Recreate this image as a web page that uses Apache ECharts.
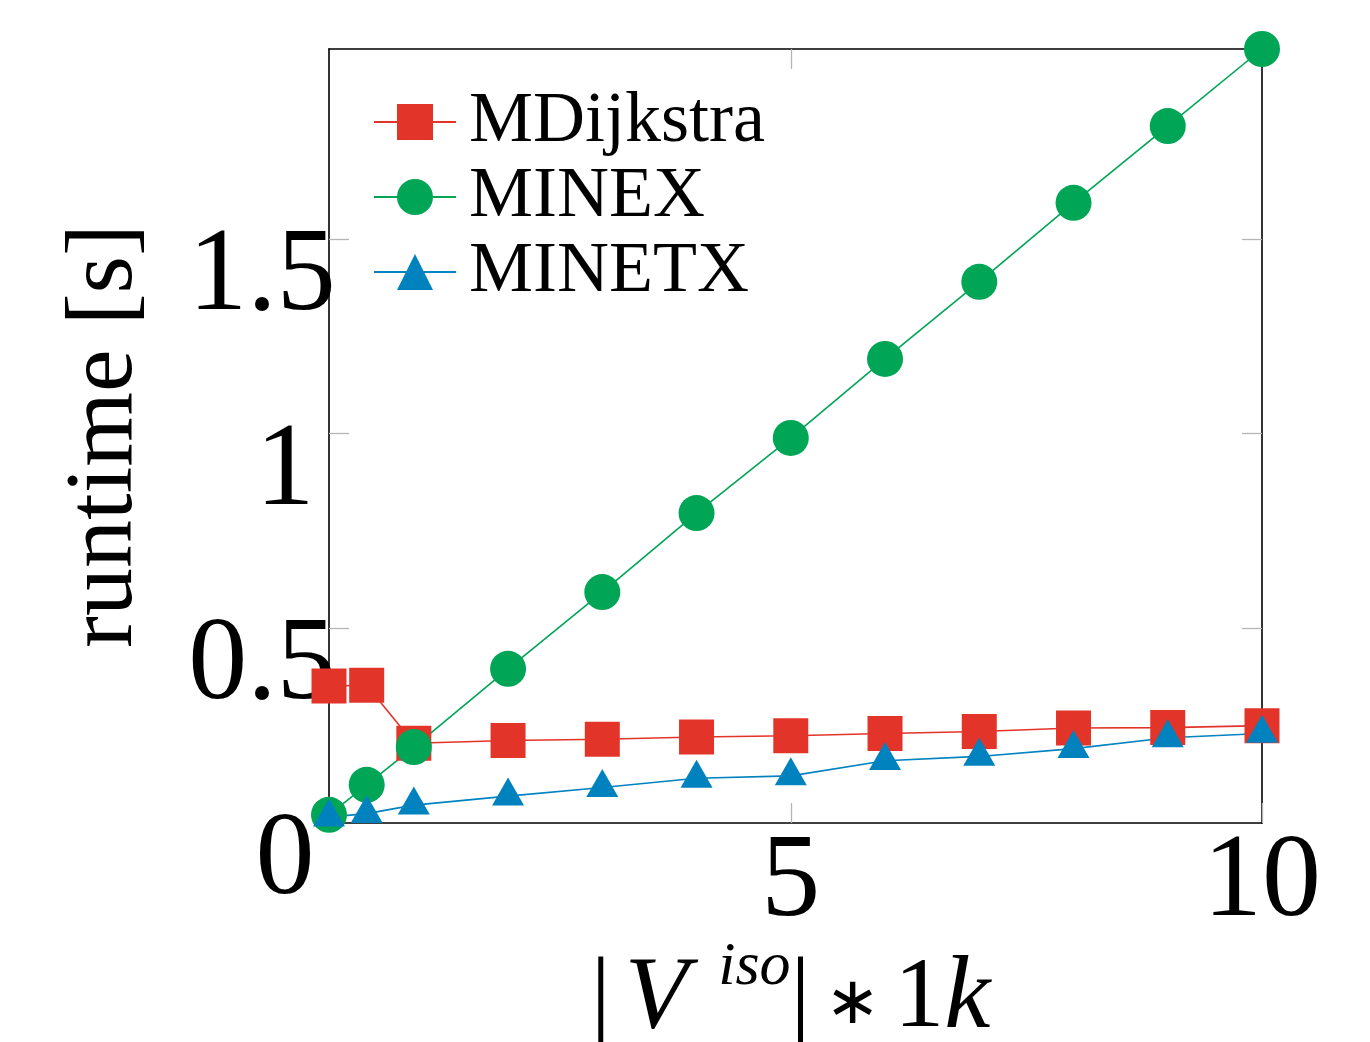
<!DOCTYPE html>
<html><head><meta charset="utf-8">
<script src="https://cdn.jsdelivr.net/npm/echarts@6/dist/echarts.min.js"></script>
<style>html,body{margin:0;padding:0;background:#fff}#c{width:1370px;height:1042px}</style>
</head><body><div id="c"></div>
<script>
// ---- data ----
const xValues   = [0.1, 0.5, 1, 2, 3, 4, 5, 6, 7, 8, 9, 10];
const mdijkstra = [0.352, 0.354, 0.205, 0.212, 0.215, 0.221, 0.224, 0.230, 0.235, 0.244, 0.245, 0.250];
const minex     = [0.021, 0.098, 0.195, 0.396, 0.593, 0.796, 0.989, 1.192, 1.390, 1.593, 1.790, 1.988];
const minetx    = [0.015, 0.024, 0.046, 0.069, 0.091, 0.115, 0.121, 0.160, 0.171, 0.191, 0.219, 0.230];
const seriesNames = ['MDijkstra', 'MINEX', 'MINETX'];
const xTicks = [5, 10];
const yTicks = [0, 0.5, 1, 1.5];
const xRange = [0.1, 10];
const yRange = [0, 1.988];

const FONT = 'Liberation Serif';
const colors = ['#e3342a', '#00a556', '#0082bf'];
const pairs = ys => xValues.map((x, i) => [x, ys[i]]);

const tickStyle = { show: true, inside: true, length: 20, lineStyle: { color: '#b5b5b5', width: 1.3 } };
const lineStyle = { show: true, onZero: false, lineStyle: { color: '#000', width: 1.6 } };

const chart = echarts.init(document.getElementById('c'), null, { renderer: 'canvas' });
chart.setOption({
  animation: false,
  backgroundColor: '#fff',
  grid: { left: 329, right: 108, top: 49, bottom: 219, containLabel: false, outerBoundsMode: 'none' },
  legend: {
    orient: 'vertical', left: 373, top: 86, padding: 0,
    itemWidth: 82, itemHeight: 45, itemGap: 3,
    selectedMode: false,
    data: seriesNames,
    textStyle: { fontFamily: FONT, fontSize: 72, lineHeight: 72, color: '#000', padding: [0, 0, 0, 8] }
  },
  xAxis: [{
    type: 'value', position: 'bottom', min: xRange[0], max: xRange[1],
    axisLine: lineStyle, splitLine: { show: false },
    axisTick: Object.assign({ customValues: xTicks }, tickStyle),
    axisLabel: { customValues: xTicks, fontFamily: FONT, fontSize: 118, lineHeight: 108, color: '#000', margin: 7 },
    name: '{n||}{v|V}{s|iso}{n||}{a|∗}{n|1}{k|k}',
    nameLocation: 'middle', nameGap: 127, nameMoveOverlap: false,
    nameTextStyle: {
      fontFamily: FONT, fontSize: 100, lineHeight: 100, color: '#000',
      rich: {
        n: { fontFamily: FONT, fontSize: 100, color: '#000' },
        v: { fontFamily: FONT, fontSize: 104, fontStyle: 'italic', color: '#000', padding: [0, 30, 0, 14] },
        s: { fontFamily: FONT, fontSize: 62, fontStyle: 'italic', color: '#000', padding: [0, 0, 64, 0] },
        a: { fontFamily: FONT, fontSize: 66, color: '#000', width: 83.6, align: 'center', padding: [12, 0, 0, 0] },
        k: { fontFamily: FONT, fontSize: 104, fontStyle: 'italic', color: '#000', padding: [0, 10, 0, 0] }
      }
    }
  }, {
    type: 'value', position: 'top', min: xRange[0], max: xRange[1],
    axisLine: lineStyle, splitLine: { show: false },
    axisTick: Object.assign({ customValues: [5] }, tickStyle),
    axisLabel: { show: false }
  }],
  yAxis: [{
    type: 'value', position: 'left', min: yRange[0], max: yRange[1],
    axisLine: lineStyle, splitLine: { show: false },
    axisTick: Object.assign({ customValues: yTicks.slice(1) }, tickStyle),
    axisLabel: {
      customValues: yTicks, align: 'center', margin: 44,
      fontFamily: FONT, fontSize: 118, lineHeight: 118, color: '#000',
      formatter: v => (String(v).indexOf('.') >= 0 ? '{w|' : '{d|') + v + '}',
      rich: {
        d: { fontFamily: FONT, fontSize: 118, color: '#000', padding: [78, 0, 0, 0] },
        w: { fontFamily: FONT, fontSize: 118, color: '#000', padding: [78, 46, 0, 0] }
      }
    },
    name: 'runtime [s]', nameLocation: 'middle', nameGap: 175, nameMoveOverlap: false,
    nameTextStyle: { fontFamily: FONT, fontSize: 96, lineHeight: 96, color: '#000' }
  }, {
    type: 'value', position: 'right', min: yRange[0], max: yRange[1],
    axisLine: lineStyle, splitLine: { show: false },
    axisTick: Object.assign({ customValues: yTicks.slice(1) }, tickStyle),
    axisLabel: { show: false }
  }],
  series: [
    { name: seriesNames[0], type: 'line', data: pairs(mdijkstra), clip: false,
      symbol: 'rect', symbolSize: 35,
      itemStyle: { color: colors[0] }, lineStyle: { color: colors[0], width: 1.6 } },
    { name: seriesNames[1], type: 'line', data: pairs(minex), clip: false,
      symbol: 'circle', symbolSize: 36,
      itemStyle: { color: colors[1] }, lineStyle: { color: colors[1], width: 1.6 } },
    { name: seriesNames[2], type: 'line', data: pairs(minetx), clip: false,
      symbol: 'triangle', symbolSize: [32, 28], symbolOffset: [0, -4.6],
      itemStyle: { color: colors[2] }, lineStyle: { color: colors[2], width: 1.6 } }
  ]
});
</script></body></html>
